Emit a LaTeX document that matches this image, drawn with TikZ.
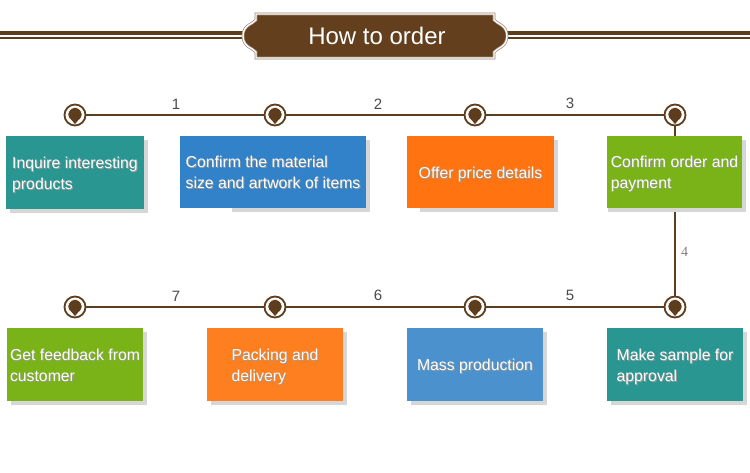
\documentclass[tikz,border=0pt]{standalone}
\usepackage{fontspec}
\setmainfont{Liberation Sans}
\newfontfamily\lserif{Liberation Serif}
\usetikzlibrary{backgrounds}
\definecolor{brn}{HTML}{5E3D1D}
\definecolor{bannerfill}{HTML}{633F1E}
\definecolor{bannerline}{HTML}{9A8670}
\definecolor{teal1}{HTML}{2A9691}
\definecolor{blue1}{HTML}{3182C8}
\definecolor{blue2}{HTML}{4A91CD}
\definecolor{orange1}{HTML}{FF7411}
\definecolor{orange2}{HTML}{FD7F20}
\definecolor{green1}{HTML}{7AB317}
\definecolor{shd}{HTML}{D6D6D6}
\definecolor{numc}{HTML}{4A4A4A}
\newcommand\boxtxt[1]{\raisebox{-2.5pt}[\height][\depth]{\rlap{\raisebox{-0.9pt}{\kern0.9pt\color{black!40}\begin{tabular}{@{}l@{}}#1\end{tabular}}}\begin{tabular}{@{}l@{}}#1\end{tabular}}}
\tikzset{
  box/.style={inner sep=0pt, text=white, align=left,
    font=\fontsize{15.8}{21}\selectfont},
  shadowbox/.style={fill=shd},
  tline/.style={draw=brn, line width=2pt},
  num/.style={inner sep=0pt, text=numc, font=\fontsize{15}{15}\selectfont},
  marker/.style={circle, draw=brn, line width=1.8pt, fill=white,
    minimum size=21pt, inner sep=0pt,
    path picture={
      \filldraw[brn, draw=white, line width=0.6pt,
        shift={(path picture bounding box.center)}]
        (0,9.8) -- (3.5,5.56) arc[start angle=60, end angle=-240, radius=7] -- cycle;
    }},
}
\begin{document}
\begin{tikzpicture}[x=1pt,y=-1pt]
\useasboundingbox (0,0) rectangle (750,472);
% title lines
\coordinate (tl1) at (0,33);
\coordinate (tr1) at (750,33);
\coordinate (tl2) at (0,38);
\coordinate (tr2) at (750,38);
\draw[brn, line width=4pt] (tl1) -- (tr1);
\draw[brn, line width=2pt] (tl2) -- (tr2);
% banner
\filldraw[fill=bannerfill, draw=bannerline, double=white, double distance=1.4pt, line width=0.7pt]
  (256,14) -- (494,14) -- (494,20)
  .. controls (497,24) and (507,25) .. (507,36)
  .. controls (507,47) and (497,48) .. (494,52)
  -- (494,58) -- (256,58) -- (256,52)
  .. controls (253,48) and (243,47) .. (243,36)
  .. controls (243,25) and (253,24) .. (256,20) -- cycle;
\node[inner sep=0pt, text=white, font=\fontsize{24}{24}\selectfont] (title) at (377,36) {How to order};
% markers
\node[marker] (m1) at (75,115) {};
\node[marker] (m2) at (275,115) {};
\node[marker] (m3) at (475,115) {};
\node[marker] (m4) at (675,115) {};
\node[marker] (m5) at (675,307) {};
\node[marker] (m6) at (475,307) {};
\node[marker] (m7) at (275,307) {};
\node[marker] (m8) at (75,307) {};
\begin{scope}[on background layer]
\draw[tline] (m1) -- node[num, above=5pt, pos=0.506] {1} (m2);
\draw[tline] (m2) -- node[num, above=5pt, pos=0.517] {2} (m3);
\draw[tline] (m3) -- node[num, above=5pt, pos=0.472] {3} (m4);
\draw[tline] (m4) -- node[pos=0.74, right=5pt, inner sep=0pt, text=gray, font=\lserif\fontsize{14}{14}\selectfont] {4} (m5);
\draw[tline] (m5) -- node[num, above=5pt, pos=0.528] {5} (m6);
\draw[tline] (m6) -- node[num, above=5pt, pos=0.483] {6} (m7);
\draw[tline] (m7) -- node[num, above=5pt, pos=0.494] {7} (m8);
\end{scope}
% boxes: shadow then box
\fill[shadowbox] (10,140) rectangle (148,213);
\node[box, fill=teal1, minimum width=138pt, minimum height=73pt] (b1) at (75,172.5) {\boxtxt{Inquire interesting\\products}};
\fill[shadowbox] (232,140) rectangle (370,212);
\node[box, fill=blue1, minimum width=186pt, minimum height=72pt] (b2) at (273,172) {\boxtxt{Confirm the material\\size and artwork of items}};
\fill[shadowbox] (420,140) rectangle (558,212);
\node[box, fill=orange1, minimum width=147pt, minimum height=72pt] (b3) at (480.5,172) {\boxtxt{Offer price details}};
\fill[shadowbox] (608,140) rectangle (746,212);
\node[box, fill=green1, minimum width=135pt, minimum height=72pt] (b4) at (674.5,172) {\boxtxt{Confirm order and\\payment}};
\fill[shadowbox] (611,332) rectangle (747,405);
\node[box, fill=teal1, minimum width=136pt, minimum height=73pt] (b5) at (675,364.5) {\boxtxt{Make sample for\\approval}};
\fill[shadowbox] (411,332) rectangle (547,405);
\node[box, fill=blue2, minimum width=136pt, minimum height=73pt] (b6) at (475,364.5) {\boxtxt{Mass production}};
\fill[shadowbox] (211,332) rectangle (347,405);
\node[box, fill=orange2, minimum width=136pt, minimum height=73pt] (b7) at (275,364.5) {\boxtxt{Packing and\\delivery}};
\fill[shadowbox] (11,332) rectangle (147,405);
\node[box, fill=green1, minimum width=136pt, minimum height=73pt] (b8) at (75,364.5) {\boxtxt{Get feedback from\\customer}};
\end{tikzpicture}
\end{document}
